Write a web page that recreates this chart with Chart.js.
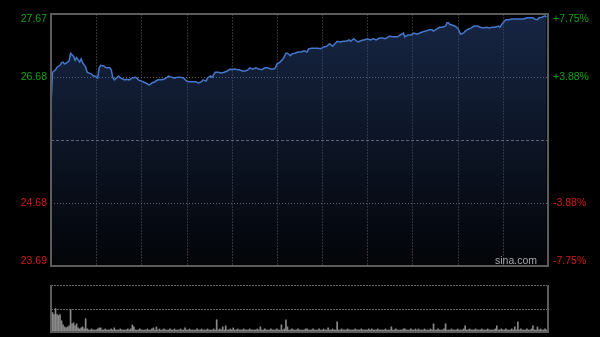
<!DOCTYPE html>
<html>
<head>
<meta charset="utf-8">
<script src="https://cdn.jsdelivr.net/npm/chart.js@4"></script>
<style>
  html, body { margin: 0; padding: 0; background: #000; }
  #wrap { position: relative; width: 600px; height: 337px; background: #000; }
  #wrap canvas { position: absolute; left: 0; }
  #priceChart { top: 0; }
  #volChart { top: 280px; }
</style>
</head>
<body>
<div id="wrap">
  <canvas id="priceChart" width="600" height="280"></canvas>
  <canvas id="volChart" width="600" height="57"></canvas>
</div>
<script>
// minutes since open (HK session, 330 minutes)
const minutes = [0,1,3,4,6,7,8,9,11,12,13,15,16,17,19,20,21,23,24,25,27,28,29,31,32,33,35,36,37,39,40,41,42,44,45,46,48,49,50,52,54,56,57,58,60,61,63,65,66,67,69,71,73,75,77,78,80,82,84,86,88,90,92,94,96,98,100,101,103,104,106,107,109,111,113,115,117,119,120,122,124,125,127,129,131,132,134,136,138,140,142,144,146,148,149,150,152,154,155,156,157,159,160,162,164,166,168,170,171,173,175,177,179,181,183,185,187,189,190,192,194,196,198,199,201,203,204,205,207,208,210,212,214,216,218,220,222,225,226,228,230,232,234,235,237,239,241,243,245,247,249,251,253,254,256,258,260,262,263,264,265,266,268,270,271,272,274,275,277,279,281,283,285,287,289,291,293,295,297,298,300,302,304,306,308,310,312,314,316,318,320,321,323,324,326,328,329];
const prices = [26.22,26.75,26.79,26.83,26.86,26.90,26.91,26.88,26.91,26.93,27.05,27.00,26.94,26.98,26.91,26.96,26.90,26.83,26.75,26.74,26.72,26.69,26.69,26.66,26.82,26.86,26.85,26.83,26.82,26.82,26.79,26.67,26.63,26.67,26.69,26.66,26.64,26.63,26.64,26.63,26.66,26.67,26.66,26.63,26.61,26.60,26.58,26.55,26.56,26.58,26.60,26.63,26.63,26.64,26.67,26.69,26.67,26.66,26.67,26.67,26.66,26.61,26.60,26.60,26.60,26.58,26.60,26.63,26.61,26.66,26.69,26.67,26.75,26.75,26.74,26.75,26.77,26.80,26.79,26.80,26.79,26.79,26.77,26.77,26.79,26.82,26.80,26.82,26.80,26.79,26.82,26.82,26.80,26.80,26.82,26.88,26.91,26.96,27.00,27.05,27.05,27.01,27.04,27.05,27.07,27.07,27.09,27.07,27.12,27.13,27.13,27.13,27.12,27.15,27.16,27.20,27.16,27.21,27.24,27.23,27.24,27.24,27.26,27.24,27.28,27.24,27.23,27.24,27.26,27.26,27.28,27.26,27.28,27.26,27.29,27.29,27.28,27.32,27.31,27.31,27.31,27.34,27.37,27.31,27.34,27.34,27.37,27.35,27.37,27.39,27.40,27.42,27.42,27.40,27.43,27.46,27.46,27.48,27.53,27.53,27.50,27.50,27.48,27.45,27.40,27.35,27.37,27.40,27.43,27.45,27.48,27.48,27.46,27.45,27.46,27.45,27.46,27.46,27.48,27.46,27.53,27.58,27.58,27.59,27.59,27.59,27.59,27.59,27.61,27.61,27.61,27.59,27.58,27.61,27.62,27.64,27.62];

// one bar per minute, 0..329
const volumes = [
  20,19,17,23,17,16,17,11,7,5,4,5,6,22,8,9,6,8,4,3,4,5,3,13,3,2,2,3,2,2,
  2,3,4,4,2,2,3,2,2,2,3,2,4,2,2,2,3,2,2,2,2,3,2,3,7,5,2,2,2,3,
  2,2,2,2,3,2,2,3,4,2,5,2,3,2,2,3,2,2,2,3,2,2,3,2,2,2,3,2,2,4,
  2,2,3,2,2,2,2,3,2,2,3,2,2,2,3,2,2,2,3,2,12,2,3,2,5,2,6,2,2,3,
  2,4,2,2,3,2,2,2,3,2,2,2,3,2,2,2,2,3,2,5,2,2,3,2,2,2,3,2,2,2,
  3,2,2,7,2,3,12,5,2,2,3,2,2,2,3,2,2,2,2,3,3,2,2,2,3,2,2,2,3,2,
  2,3,2,2,4,2,2,3,2,2,10,2,2,3,2,2,2,3,2,2,2,2,3,2,2,2,3,2,2,2,
  2,3,2,3,2,2,2,3,2,2,2,2,3,2,2,2,5,2,2,3,2,2,2,2,3,3,2,2,2,3,
  2,2,3,2,3,2,2,2,3,2,2,2,3,2,8,2,2,3,2,2,2,3,8,2,2,2,3,2,2,2,
  3,2,2,2,3,6,2,2,3,2,2,2,3,2,2,2,3,2,2,2,3,2,2,2,2,3,6,2,2,3,
  2,2,3,2,2,2,3,2,5,2,10,2,3,2,2,2,3,2,2,3,6,2,2,5,2,3,2,2,3,2
];

const prevClose = 25.68;
const priceTicks = [27.67, 26.68, 24.68, 23.69];
const pctLabels = ['+7.75%', '+3.88%', '-3.88%', '-7.75%'];
const gridMinutes = [30, 60, 90, 120, 150, 180, 210, 240, 270, 300];

const FONT = '10.5px "Liberation Sans", Arial, sans-serif';

const priceGrid = {
  id: 'priceGrid',
  beforeDatasetsDraw(chart) {
    const { ctx, chartArea: a, scales: { x, y } } = chart;
    ctx.save();
    ctx.lineWidth = 1;
    ctx.strokeStyle = '#303030';
    ctx.setLineDash([2, 1]);
    gridMinutes.forEach(m => {
      const px = Math.round(x.getPixelForValue(m)) + 0.5;
      ctx.beginPath(); ctx.moveTo(px, a.top); ctx.lineTo(px, a.bottom); ctx.stroke();
    });
    ctx.strokeStyle = '#6a6a6a';
    ctx.setLineDash([1, 2]);
    [26.68, 24.68].forEach(v => {
      const py = Math.round(y.getPixelForValue(v)) + 0.5;
      ctx.beginPath(); ctx.moveTo(a.left, py); ctx.lineTo(a.right, py); ctx.stroke();
    });
    ctx.strokeStyle = '#707070';
    ctx.setLineDash([3, 2]);
    const my = Math.round(y.getPixelForValue(prevClose)) + 0.5;
    ctx.beginPath(); ctx.moveTo(a.left, my); ctx.lineTo(a.right, my); ctx.stroke();
    ctx.restore();
  },
  afterDraw(chart) {
    const { ctx, chartArea: a, scales: { y } } = chart;
    ctx.save();
    ctx.strokeStyle = '#5c5c5c';
    ctx.lineWidth = 2;
    ctx.strokeRect(a.left, a.top, a.right - a.left, a.bottom - a.top);
    ctx.font = FONT;
    ctx.textBaseline = 'middle';
    priceTicks.forEach((v, i) => {
      let py = y.getPixelForValue(v);
      if (i === 0) py += 5;
      if (i === priceTicks.length - 1) py -= 5;
      ctx.fillStyle = v > prevClose ? '#13a013' : '#d41a1a';
      ctx.textAlign = 'right';
      ctx.fillText(v.toFixed(2), a.left - 4, py);
      ctx.textAlign = 'left';
      ctx.fillText(pctLabels[i], a.right + 5, py);
    });
    ctx.fillStyle = '#a8a8a8';
    ctx.textAlign = 'right';
    ctx.fillText('sina.com', a.right - 11, a.bottom - 4.5);
    ctx.restore();
  }
};

new Chart(document.getElementById('priceChart'), {
  type: 'line',
  data: {
    datasets: [{
      data: minutes.map((m, i) => ({ x: m, y: prices[i] })),
      borderColor: '#4477cc',
      borderWidth: 1.5,
      pointRadius: 0,
      tension: 0,
      fill: 'start',
      backgroundColor: (c) => {
        const a = c.chart.chartArea;
        if (!a) return 'rgba(40,70,130,0.3)';
        const g = c.chart.ctx.createLinearGradient(0, a.top, 0, a.bottom);
        g.addColorStop(0, 'rgba(45,75,135,0.5)');
        g.addColorStop(1, 'rgba(45,75,135,0.06)');
        return g;
      }
    }]
  },
  options: {
    responsive: false,
    animation: false,
    devicePixelRatio: 1,
    layout: { padding: { left: 51, right: 52, top: 14, bottom: 14 } },
    plugins: { legend: { display: false }, tooltip: { enabled: false } },
    scales: {
      x: { type: 'linear', min: 0, max: 330, display: false },
      y: { min: 23.69, max: 27.67, display: false }
    }
  },
  plugins: [priceGrid]
});

const volGrid = {
  id: 'volGrid',
  beforeDatasetsDraw(chart) {
    const { ctx, chartArea: a } = chart;
    ctx.save();
    ctx.strokeStyle = '#6a6a6a';
    ctx.lineWidth = 1;
    ctx.setLineDash([2, 1]);
    const mid = Math.round((a.top + a.bottom) / 2) + 0.5;
    [a.top + 0.5, mid].forEach(py => {
      ctx.beginPath(); ctx.moveTo(a.left, py); ctx.lineTo(a.right, py); ctx.stroke();
    });
    ctx.restore();
  },
  afterDraw(chart) {
    const { ctx, chartArea: a } = chart;
    ctx.save();
    ctx.strokeStyle = '#5c5c5c';
    ctx.lineWidth = 2;
    ctx.beginPath();
    ctx.moveTo(a.left, a.top); ctx.lineTo(a.left, a.bottom);
    ctx.lineTo(a.right, a.bottom); ctx.lineTo(a.right, a.top);
    ctx.stroke();
    ctx.restore();
  }
};

new Chart(document.getElementById('volChart'), {
  type: 'bar',
  data: {
    datasets: [{
      data: volumes.map((v, i) => ({ x: i, y: v })),
      backgroundColor: '#8a8a8a',
      barThickness: 1,
      borderWidth: 0
    }]
  },
  options: {
    responsive: false,
    animation: false,
    devicePixelRatio: 1,
    layout: { padding: { left: 51, right: 52, top: 5, bottom: 5 } },
    plugins: { legend: { display: false }, tooltip: { enabled: false } },
    scales: {
      x: { type: 'linear', min: 0, max: 330, offset: false, display: false },
      y: { min: 0, max: Math.max(...volumes) * 2, display: false }
    }
  },
  plugins: [volGrid]
});
</script>
</body>
</html>
